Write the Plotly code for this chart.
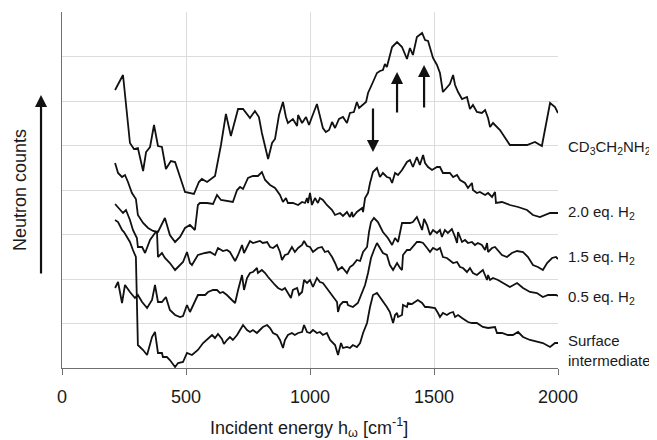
import plotly.graph_objects as go

# Incident energy (cm-1) and neutron counts (arbitrary units, vertically offset spectra)
cd3_x = [214,246,274,290,306,327,339,355,371,387,403,419,439,456,496,532,552,564,585,617,641,661,681,710,730,758,778,794,806,831,847,859,875,891,903,911,931,948,952,968,984,996,1008,1028,1052,1064,1077,1089,1101,1117,1133,1149,1161,1177,1189,1198,1226,1234,1254,1270,1282,1294,1302,1310,1331,1351,1371,1391,1403,1415,1431,1452,1464,1476,1496,1512,1524,1536,1564,1577,1585,1597,1613,1633,1645,1657,1673,1693,1706,1718,1726,1738,1766,1806,1875,1907,1935,1968,1988,2000]
cd3_y = [278,293,225,219,220,197,216,221,243,222,221,199,207,206,176,174,186,189,186,192,223,254,232,259,259,250,257,251,235,209,225,229,253,266,251,245,249,242,253,245,251,243,251,264,240,236,238,246,240,249,251,245,255,256,266,260,266,275,286,295,297,298,304,301,321,326,321,309,320,313,331,335,328,327,310,303,295,276,284,293,283,276,269,271,259,263,256,255,258,250,241,245,238,223,223,226,222,265,261,255]

h20_x = [214,226,242,254,266,282,298,306,327,347,367,387,415,435,456,476,496,516,536,548,556,585,609,625,641,665,689,706,718,730,750,770,790,806,819,839,859,879,891,903,911,931,952,968,980,988,992,1000,1008,1020,1032,1040,1052,1068,1089,1101,1121,1133,1149,1161,1169,1173,1189,1210,1214,1222,1234,1242,1254,1270,1282,1294,1310,1322,1331,1343,1355,1371,1391,1403,1415,1431,1443,1456,1464,1476,1492,1512,1524,1536,1564,1577,1593,1605,1625,1637,1653,1657,1673,1685,1706,1718,1734,1746,1750,1774,1806,1839,1875,1899,1927,1968,2000]
h20_y = [205,195,191,193,186,175,169,153,145,140,137,136,150,133,126,131,140,143,138,163,165,165,164,173,168,167,166,178,181,179,190,192,192,196,188,183,180,173,166,170,165,165,163,166,165,170,165,175,163,170,165,170,168,163,158,153,155,152,156,151,156,151,156,160,156,170,175,185,196,200,191,195,191,190,185,195,193,198,206,208,201,211,203,213,205,201,198,201,201,195,195,191,193,188,185,180,185,178,175,176,173,175,171,176,165,166,163,161,158,153,151,155,155]

h15_x = [214,234,246,258,274,286,302,306,323,335,355,375,383,387,403,415,435,456,468,488,504,516,524,548,577,597,617,629,649,665,677,698,710,726,734,746,758,770,786,798,810,827,839,851,867,879,887,899,911,927,939,952,968,976,988,1000,1012,1032,1048,1060,1073,1089,1101,1113,1129,1149,1161,1173,1189,1202,1214,1230,1238,1246,1258,1274,1294,1314,1331,1343,1355,1371,1391,1403,1415,1431,1439,1452,1460,1472,1484,1496,1512,1524,1532,1544,1556,1572,1585,1593,1597,1613,1625,1637,1653,1665,1677,1693,1706,1714,1718,1734,1746,1758,1774,1794,1814,1835,1859,1879,1899,1919,1939,1956,1976,1992,2000]
h15_y = [164,159,155,158,148,138,130,121,121,115,128,135,136,111,115,110,105,98,101,106,116,105,103,113,115,116,113,120,117,118,116,107,113,123,115,121,127,125,126,127,125,126,121,120,123,116,108,113,114,121,116,120,123,127,122,121,116,120,121,116,117,111,105,98,101,95,101,103,108,107,116,121,136,146,150,146,136,130,123,130,126,145,145,145,146,151,146,138,149,143,133,138,135,138,131,138,135,139,131,125,136,126,128,125,126,123,125,123,118,125,116,120,121,118,113,111,115,117,116,111,103,101,98,105,110,111,109]

h05_x = [214,226,242,254,274,294,306,323,343,363,375,387,403,419,435,456,476,488,504,516,548,577,589,609,625,637,649,665,685,698,710,726,734,746,758,770,786,790,806,819,831,847,859,871,887,899,911,923,931,948,956,968,976,988,1000,1012,1028,1040,1052,1068,1081,1093,1109,1113,1121,1133,1149,1153,1173,1193,1210,1222,1234,1246,1258,1270,1282,1294,1310,1322,1335,1351,1363,1371,1375,1391,1403,1415,1431,1443,1456,1472,1484,1496,1512,1524,1536,1552,1564,1577,1593,1605,1617,1633,1645,1657,1673,1685,1697,1714,1718,1726,1738,1758,1778,1806,1835,1859,1887,1915,1939,1960,1992,2000]
h05_y = [80,86,65,83,76,70,73,66,60,68,83,66,66,71,58,53,51,52,63,56,73,73,76,78,78,75,76,73,68,65,78,93,78,90,95,96,100,95,98,95,91,86,83,80,78,80,75,70,78,80,73,76,88,85,88,81,90,86,85,80,75,71,66,56,63,66,66,63,61,65,76,83,95,110,118,125,120,115,113,103,98,105,100,98,113,118,118,121,126,126,125,120,116,120,118,120,111,110,108,105,106,101,100,96,100,95,93,96,98,88,93,88,90,88,85,81,85,80,76,75,71,73,73,72]

surf_x = [214,226,242,250,262,274,286,298,306,327,343,363,375,387,403,407,423,435,456,468,488,504,524,536,548,569,589,605,617,629,645,653,665,677,689,706,718,730,746,758,770,786,798,810,827,839,851,867,879,891,899,911,927,939,952,968,976,988,1000,1012,1028,1040,1052,1068,1081,1093,1101,1113,1125,1133,1149,1161,1173,1189,1202,1214,1230,1242,1254,1270,1282,1294,1310,1322,1335,1343,1351,1355,1371,1375,1391,1395,1411,1423,1435,1452,1464,1476,1492,1504,1516,1524,1536,1552,1564,1577,1585,1597,1613,1625,1637,1653,1673,1685,1697,1718,1734,1746,1754,1774,1798,1818,1839,1859,1887,1915,1939,1968,1988,2000]
surf_y = [148,146,138,136,131,126,118,111,23,18,13,31,36,15,15,11,11,8,1,5,6,15,13,16,18,25,30,33,30,34,29,24,28,31,28,33,38,43,38,36,38,35,38,41,43,40,35,33,28,20,28,33,35,33,35,36,43,36,35,38,35,36,33,35,28,25,23,13,25,20,21,20,23,21,25,35,45,61,73,75,71,66,61,56,45,53,55,51,53,63,61,65,64,66,68,65,61,61,60,60,55,51,55,53,55,56,51,53,50,48,46,45,45,43,41,40,41,41,35,35,33,33,36,31,28,26,25,21,25,25]

series = [
    (cd3_x, cd3_y, "CD<sub>3</sub>CH<sub>2</sub>NH<sub>2</sub>", 221),
    (h20_x, h20_y, "2.0 eq. H<sub>2</sub>", 156),
    (h15_x, h15_y, "1.5 eq. H<sub>2</sub>", 111),
    (h05_x, h05_y, "0.5 eq. H<sub>2</sub>", 71),
    (surf_x, surf_y, "Surface<br>intermediate", 18),
]

x_ticks = [0, 500, 1000, 1500, 2000]

FONT = "Liberation Sans, Arial, sans-serif"
TXT = "#1a1a1a"

fig = go.Figure()
for xs, ys, name, _ in series:
    fig.add_trace(go.Scatter(x=xs, y=ys, mode="lines", name=name,
                             line=dict(color="#111111", width=1.8),
                             showlegend=False, hoverinfo="skip"))

ann = []
for xs, ys, name, ly in series:
    ann.append(dict(x=2000, y=ly, xref="x", yref="y", text=name, showarrow=False,
                    xanchor="left", yanchor="middle", align="left", xshift=8,
                    font=dict(family=FONT, size=15, color=TXT)))

# marker arrows inside the plot
for ax_x, tail, tip in [(1254, 261, 216), (1351, 254, 296), (1460, 259, 303)]:
    ann.append(dict(x=ax_x, y=tip, ax=ax_x, ay=tail, xref="x", yref="y",
                    axref="x", ayref="y", text="", showarrow=True,
                    arrowhead=2, arrowsize=1.1, arrowwidth=2.2, arrowcolor="#111111"))

# y-axis arrow + label
ann.append(dict(x=-0.0423, y=273, xref="paper", yref="y", ax=0, ay=180,
                text="", showarrow=True, arrowhead=2, arrowsize=1.1,
                arrowwidth=2.2, arrowcolor="#111111"))
ann.append(dict(x=-0.0847, y=178, xref="paper", yref="y", text="Neutron counts",
                showarrow=False, textangle=-90, xanchor="center", yanchor="middle",
                font=dict(family=FONT, size=18, color=TXT)))
ann.append(dict(x=0.4970, y=-0.1665, xref="paper", yref="paper",
                text="Incident energy h<sub>ω</sub> [cm<sup>-1</sup>]",
                showarrow=False, xanchor="center", yanchor="middle",
                font=dict(family=FONT, size=18, color=TXT)))

fig.update_layout(
    width=657, height=440,
    margin=dict(l=54, r=107, t=4, b=80),
    paper_bgcolor="white", plot_bgcolor="white",
    annotations=ann,
    font=dict(family=FONT, size=18, color=TXT),
    xaxis=dict(range=[0, 2000], tickvals=x_ticks, ticktext=[str(t) for t in x_ticks],
               showgrid=True, gridcolor="#dcdcdc", gridwidth=1,
               showline=True, linecolor="#707070", linewidth=1,
               ticks="outside", ticklen=6, tickcolor="#707070",
               ticklabelstandoff=6, zeroline=False,
               tickfont=dict(family=FONT, size=18, color=TXT)),
    yaxis=dict(range=[0, 356], tick0=0, dtick=44.5, showticklabels=False,
               showgrid=True, gridcolor="#dcdcdc", gridwidth=1,
               showline=True, linecolor="#707070", linewidth=1,
               ticks="", zeroline=False),
)

fig.write_html("out.html")
